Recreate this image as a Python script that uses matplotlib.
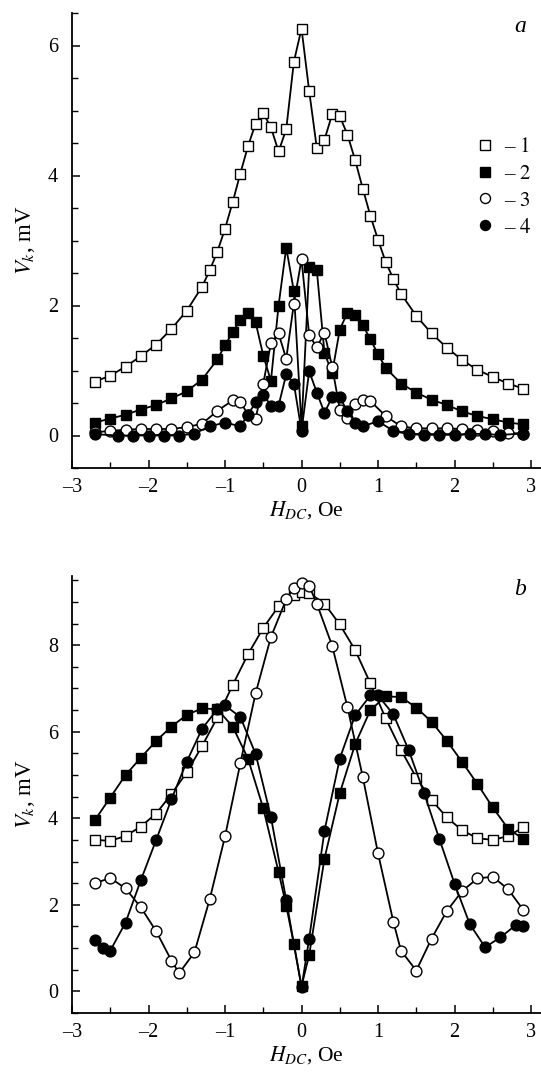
import matplotlib
matplotlib.use("Agg")
import matplotlib.pyplot as plt
from matplotlib.ticker import MultipleLocator
from matplotlib.lines import Line2D

plt.rcParams['font.family'] = ['Liberation Serif', 'DejaVu Serif']
plt.rcParams['mathtext.fontset'] = 'stix'

# ---------------- Panel a ----------------
a1_x = [-2.7, -2.5, -2.3, -2.1, -1.9, -1.7, -1.5, -1.3, -1.2, -1.1, -1.0, -0.9, -0.8, -0.7, -0.6,
        -0.5, -0.4, -0.3, -0.2, -0.1, 0.0, 0.1, 0.2, 0.3, 0.4, 0.5, 0.6, 0.7, 0.8, 0.9, 1.0, 1.1,
        1.2, 1.3, 1.5, 1.7, 1.9, 2.1, 2.3, 2.5, 2.7, 2.9]
a1_y = [0.83, 0.92, 1.06, 1.22, 1.40, 1.64, 1.92, 2.29, 2.54, 2.83, 3.18, 3.59, 4.03, 4.45, 4.80,
        4.96, 4.74, 4.37, 4.71, 5.75, 6.26, 5.30, 4.42, 4.55, 4.94, 4.91, 4.63, 4.24, 3.80, 3.38,
        3.01, 2.67, 2.41, 2.18, 1.84, 1.57, 1.35, 1.16, 1.01, 0.90, 0.80, 0.72]

a2_x = [-2.7, -2.5, -2.3, -2.1, -1.9, -1.7, -1.5, -1.3, -1.1, -1.0, -0.9, -0.8, -0.7, -0.6, -0.5,
        -0.4, -0.3, -0.2, -0.1, 0.0, 0.1, 0.2, 0.3, 0.4, 0.5, 0.6, 0.7, 0.8, 0.9, 1.0, 1.1, 1.3,
        1.5, 1.7, 1.9, 2.1, 2.3, 2.5, 2.7, 2.9]
a2_y = [0.20, 0.26, 0.32, 0.40, 0.47, 0.57, 0.68, 0.86, 1.17, 1.39, 1.59, 1.78, 1.88, 1.74, 1.23,
        0.84, 2.00, 2.89, 2.22, 0.14, 2.59, 2.54, 1.27, 0.96, 1.63, 1.89, 1.86, 1.70, 1.48, 1.25,
        1.04, 0.80, 0.66, 0.55, 0.47, 0.37, 0.30, 0.25, 0.20, 0.17]

a3_x = [-2.7, -2.5, -2.3, -2.1, -1.9, -1.7, -1.5, -1.3, -1.1, -0.9, -0.8, -0.7, -0.6, -0.5, -0.4,
        -0.3, -0.2, -0.1, 0.0, 0.1, 0.2, 0.3, 0.4, 0.5, 0.6, 0.7, 0.8, 0.9, 1.1, 1.3, 1.5, 1.7,
        1.9, 2.1, 2.3, 2.5, 2.7, 2.9]
a3_y = [0.05, 0.07, 0.09, 0.10, 0.10, 0.10, 0.13, 0.18, 0.38, 0.54, 0.52, 0.32, 0.26, 0.80, 1.42,
        1.57, 1.18, 2.03, 2.71, 1.54, 1.36, 1.58, 1.06, 0.40, 0.27, 0.48, 0.55, 0.53, 0.30, 0.14,
        0.11, 0.11, 0.11, 0.10, 0.09, 0.07, 0.04, 0.03]

a4_x = [-2.7, -2.4, -2.2, -2.0, -1.8, -1.6, -1.4, -1.2, -1.0, -0.8, -0.7, -0.6, -0.5, -0.4, -0.3,
        -0.2, -0.1, 0.0, 0.1, 0.2, 0.3, 0.4, 0.5, 0.6, 0.7, 0.8, 1.0, 1.2, 1.4, 1.6, 1.8, 2.0,
        2.2, 2.4, 2.6, 2.9]
a4_y = [0.02, 0.00, 0.00, 0.00, 0.00, 0.00, 0.03, 0.14, 0.20, 0.14, 0.32, 0.51, 0.63, 0.46, 0.46,
        0.94, 0.80, 0.07, 0.99, 0.66, 0.35, 0.59, 0.59, 0.37, 0.20, 0.14, 0.22, 0.07, 0.02, 0.01,
        0.01, 0.01, 0.03, 0.02, 0.01, 0.03]

# ---------------- Panel b ----------------
b1_x = [-2.7, -2.5, -2.3, -2.1, -1.9, -1.7, -1.5, -1.3, -1.1, -0.9, -0.7, -0.5, -0.3, -0.1, 0.0,
        0.1, 0.3, 0.5, 0.7, 0.9, 1.1, 1.3, 1.5, 1.7, 1.9, 2.1, 2.3, 2.5, 2.7, 2.9]
b1_y = [3.50, 3.48, 3.59, 3.81, 4.11, 4.56, 5.06, 5.67, 6.33, 7.08, 7.79, 8.40, 8.90, 9.17, 9.22,
        9.21, 8.96, 8.48, 7.89, 7.12, 6.31, 5.58, 4.94, 4.42, 4.02, 3.72, 3.54, 3.50, 3.59, 3.79]

b2_x = [-2.7, -2.5, -2.3, -2.1, -1.9, -1.7, -1.5, -1.3, -1.1, -0.9, -0.7, -0.5, -0.3, -0.2, -0.1,
        0.0, 0.1, 0.3, 0.5, 0.7, 0.9, 1.1, 1.3, 1.5, 1.7, 1.9, 2.1, 2.3, 2.5, 2.7, 2.9]
b2_y = [3.96, 4.48, 5.00, 5.40, 5.79, 6.12, 6.39, 6.54, 6.52, 6.12, 5.38, 4.23, 2.76, 1.98, 1.09,
        0.12, 0.84, 3.07, 4.58, 5.71, 6.50, 6.82, 6.80, 6.56, 6.23, 5.79, 5.30, 4.79, 4.25, 3.76,
        3.52]

b3_x = [-2.7, -2.5, -2.3, -2.1, -1.9, -1.7, -1.6, -1.4, -1.2, -1.0, -0.8, -0.6, -0.4, -0.2, -0.1,
        0.0, 0.1, 0.2, 0.4, 0.6, 0.8, 1.0, 1.2, 1.3, 1.5, 1.7, 1.9, 2.1, 2.3, 2.5, 2.7, 2.9]
b3_y = [2.50, 2.62, 2.38, 1.94, 1.39, 0.71, 0.42, 0.90, 2.13, 3.58, 5.27, 6.89, 8.19, 9.06, 9.33,
        9.43, 9.37, 8.96, 7.99, 6.57, 4.96, 3.19, 1.61, 0.94, 0.48, 1.22, 1.86, 2.32, 2.61, 2.65,
        2.36, 1.88]

b4_x = [-2.7, -2.6, -2.5, -2.3, -2.1, -1.9, -1.7, -1.5, -1.3, -1.1, -1.0, -0.8, -0.6, -0.4, -0.2,
        0.0, 0.1, 0.3, 0.5, 0.7, 0.9, 1.0, 1.2, 1.4, 1.6, 1.8, 2.0, 2.2, 2.4, 2.6, 2.8, 2.9]
b4_y = [1.18, 1.00, 0.94, 1.59, 2.57, 3.50, 4.44, 5.31, 6.07, 6.52, 6.61, 6.34, 5.49, 4.03, 2.11,
        0.09, 1.22, 3.71, 5.38, 6.38, 6.84, 6.84, 6.40, 5.58, 4.59, 3.53, 2.49, 1.55, 1.02, 1.25,
        1.53, 1.50]

legend_labels = ["1", "2", "3", "4"]
x_ticks = [-3, -2, -1, 0, 1, 2, 3]

styles = [dict(marker='s', mfc='white'), dict(marker='s', mfc='black'),
          dict(marker='o', mfc='white'), dict(marker='o', mfc='black')]
common = dict(color='black', lw=1.3, ms=7.8, mec='black', mew=1.0)

fig = plt.figure(figsize=(5.41, 10.84), dpi=100)
ax_a = fig.add_axes([72/541, (1084-468)/1084, (541-72)/541, 455/1084])
ax_b = fig.add_axes([72/541, (1084-1013)/1084, (541-72)/541, 437/1084])

for ax, data in [(ax_a, [(a1_x, a1_y), (a2_x, a2_y), (a3_x, a3_y), (a4_x, a4_y)]),
                 (ax_b, [(b1_x, b1_y), (b2_x, b2_y), (b3_x, b3_y), (b4_x, b4_y)])]:
    for i, (xs, ys) in enumerate(data):
        ax.plot(xs, ys, zorder=2 + i, **styles[i], **common)
    ax.set_xlim(-3, 3.13)
    ax.set_xticks(x_ticks)
    ax.set_xticklabels([("\u2013" + str(-t)) if t < 0 else str(t) for t in x_ticks])
    ax.xaxis.set_minor_locator(MultipleLocator(0.5))
    ax.yaxis.set_minor_locator(MultipleLocator(0.5))
    for s in ['top', 'right']:
        ax.spines[s].set_visible(False)
    for s in ['left', 'bottom']:
        ax.spines[s].set_linewidth(1.3)
    ax.tick_params(which='major', direction='in', length=6, width=1.1, labelsize=14.5)
    ax.tick_params(axis='x', which='major', pad=7)
    ax.tick_params(axis='y', which='major', pad=10)
    ax.tick_params(which='minor', direction='in', length=4, width=1.0)
    ax.set_xlabel(r"$H_{DC}$, Oe", fontsize=15.5, labelpad=2)
    ax.set_ylabel(r"$V_k$, mV", fontsize=16.5, labelpad=8)

ax_a.set_ylim(-0.5, 6.5)
ax_a.set_yticks([0, 2, 4, 6])
ax_b.set_ylim(-0.5, 9.6)
ax_b.set_yticks([0, 2, 4, 6, 8])

ax_a.text(0.955, 0.971, "a", transform=ax_a.transAxes, fontsize=17, style='italic',
          ha='center', va='center')
ax_b.text(0.955, 0.968, "b", transform=ax_b.transAxes, fontsize=17, style='italic',
          ha='center', va='center')

handles = [Line2D([], [], linestyle='none', **{k: v for k, v in styles[i].items()},
                  mec='black', mew=1.0, ms=7.2) for i in range(4)]
labels = ["\u2013 $\\mathit{%s}$" % l for l in legend_labels]
leg = ax_a.legend(handles, labels, loc='upper left', bbox_to_anchor=(0.845, 0.745),
                  frameon=False, fontsize=15, handlelength=0.8, handletextpad=0.5,
                  labelspacing=0.35, borderaxespad=0)

fig.savefig("out.png", dpi=100)
